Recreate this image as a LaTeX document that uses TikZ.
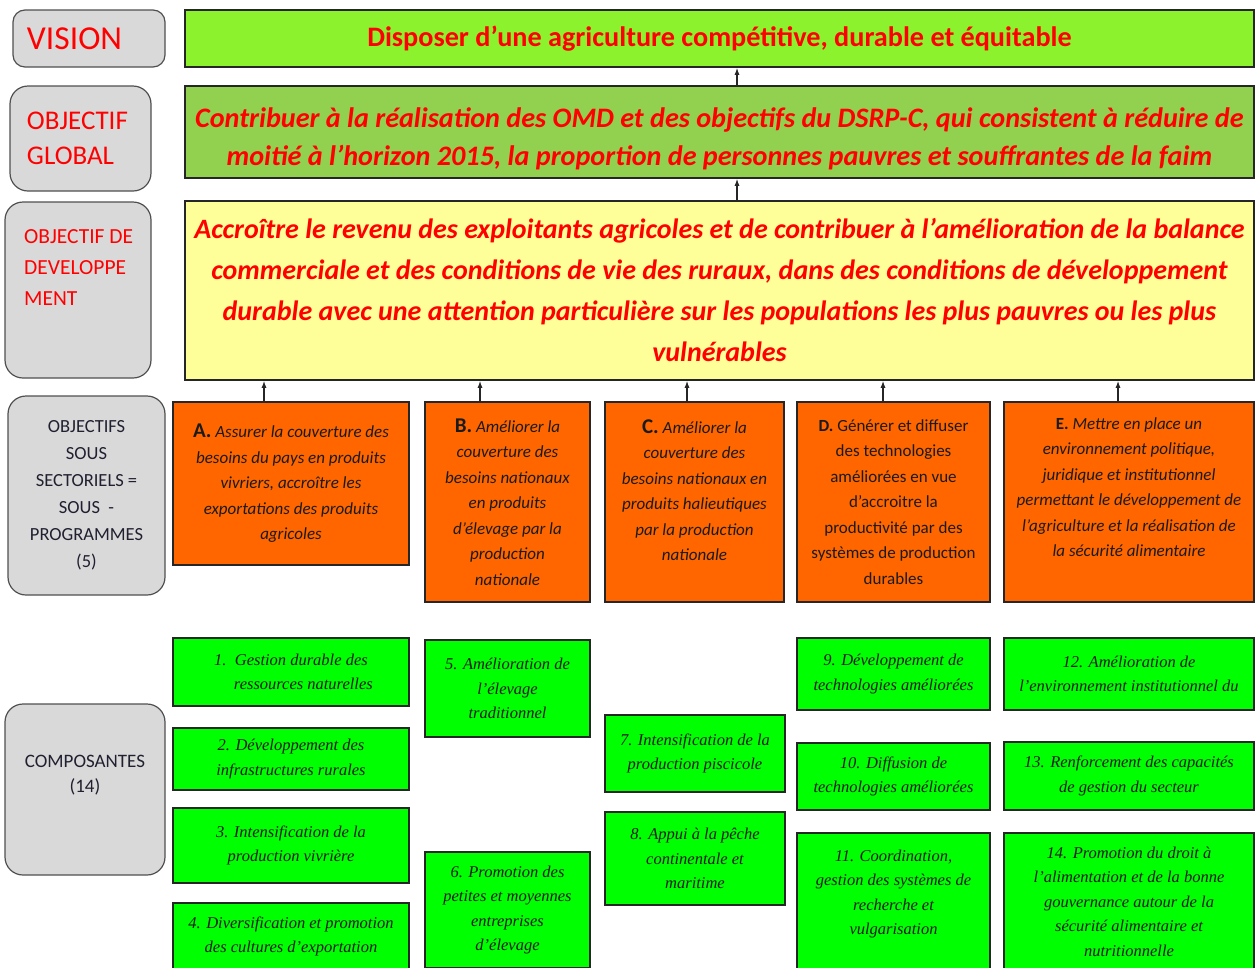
\documentclass[tikz,border=0pt]{standalone}
\usepackage{fontspec}
\setmainfont{Carlito}
\newfontfamily\compfont{Liberation Serif}
\usetikzlibrary{arrows.meta,positioning}
\definecolor{VisGreen}{HTML}{8CF22E}
\definecolor{GlobGreen}{HTML}{92D050}
\definecolor{DevYellow}{HTML}{FFFF99}
\definecolor{SubOrange}{HTML}{FF6600}
\definecolor{CompGreen}{HTML}{00FF00}
\definecolor{LblGray}{HTML}{D9D9D9}
\definecolor{LblEdge}{HTML}{505050}
\definecolor{TxtRed}{HTML}{FF0000}
\definecolor{TxtDark}{HTML}{1A1A1A}
\definecolor{TxtNavy}{HTML}{202030}
\newcommand\toppad[1]{\rule{0pt}{#1}}
\newcommand\botpad[1]{\rule[-#1]{0pt}{#1}}

\begin{document}
\begin{tikzpicture}[x=1pt,y=-1pt,
  lblbox/.style={draw=LblEdge,line width=1.2pt,fill=LblGray,rounded corners=18pt,inner sep=0pt},
  topbox/.style={draw=black!85,line width=1.6pt,inner sep=0pt,minimum width=1069pt,align=center,text=TxtRed},
  subbox/.style={draw=black!85,line width=1.4pt,fill=SubOrange,inner sep=0pt,align=center,text=TxtDark,font={\fontsize{17}{25.5}\selectfont\itshape}},
  compbox/.style={draw=black!85,line width=1.4pt,fill=CompGreen,inner sep=0pt,align=center,text=TxtDark,font={\compfont\fontsize{16.5}{24.5}\selectfont\itshape}},
  uparrow/.style={-{Latex[length=7pt,width=5pt]},line width=1.2pt,black!85}]
\useasboundingbox (0,0) rectangle (1256,967);

\node[lblbox,rounded corners=12pt,minimum width=152pt,minimum height=57pt,text width=124pt,align=left,text=TxtRed,font={\fontsize{33.5}{36}\selectfont}] (vislbl) at (89,38.5) {VISION};
\node[lblbox,minimum width=141pt,minimum height=105pt,text width=107pt,align=left,text=TxtRed,font={\fontsize{27}{35}\selectfont}] (glblbl) at (80.5,138.5) {OBJECTIF\\GLOBAL};
\node[lblbox,minimum width=146pt,minimum height=176pt] (devlbl) at (78,290) {};
\node[anchor=north west,inner sep=0pt,align=left,text=TxtRed,font={\fontsize{21.5}{31}\selectfont}] (devlbltxt) at (24,229) {OBJECTIF DE\\DEVELOPPE\\MENT};
\node[lblbox,minimum width=157pt,minimum height=199pt,align=center,text=TxtNavy,font={\fontsize{18.5}{27}\selectfont}] (sslbl) at (86.5,495.5) {OBJECTIFS\\SOUS\\SECTORIELS =\\SOUS\ \ -\\PROGRAMMES\\(5)};
\node[lblbox,minimum width=160pt,minimum height=171pt] (complbl) at (85,789.5) {};
\node[align=center,inner sep=0pt,text=TxtNavy,font={\fontsize{19}{25}\selectfont}] (complbltxt) at (85,775) {COMPOSANTES\\(14)};

\node[topbox,fill=VisGreen,minimum height=57pt,font={\fontsize{28.2}{30}\selectfont\bfseries}] (vision) at (719.5,38.5) {Disposer d’une agriculture compétitive, durable et équitable};
\node[topbox,fill=GlobGreen,minimum height=92pt,font={\fontsize{28.2}{38}\selectfont\bfseries\itshape}] (global) at (719.5,132) {\toppad{34pt}Contribuer à la réalisation des OMD et des objectifs du DSRP-C, qui consistent à réduire de\\moitié à l’horizon 2015, la proportion de personnes pauvres et souffrantes de la faim};
\node[topbox,fill=DevYellow,minimum height=179pt,font={\fontsize{28}{41}\selectfont\bfseries\itshape}] (devt) at (719.5,290.5) {Accroître le revenu des exploitants agricoles et de contribuer à l’amélioration de la balance\\commerciale et des conditions de vie des ruraux, dans des conditions de développement\\durable avec une attention particulière sur les populations les plus pauvres ou les plus\\vulnérables};

\draw[uparrow] ([xshift=17.5pt]global.north) -- ([xshift=17.5pt]vision.south);
\draw[uparrow] ([xshift=17.5pt]devt.north) -- ([xshift=17.5pt]global.south);

\node[subbox,minimum width=236pt,minimum height=163pt] (suba) at (291,483.5) {{\upshape\bfseries\fontsize{21}{25.5}\selectfont A.} Assurer la couverture des\\besoins du pays en produits\\vivriers, accroître les\\exportations des produits\\agricoles};
\node[subbox,minimum width=165pt,minimum height=200pt] (subb) at (507.5,502) {{\upshape\bfseries\fontsize{21}{25.5}\selectfont B.} Améliorer la\\couverture des\\besoins nationaux\\en produits\\d’élevage par la\\production\\nationale};
\node[subbox,minimum width=179pt,minimum height=200pt] (subc) at (694.5,502) {{\upshape\bfseries\fontsize{21}{25.5}\selectfont C.} Améliorer la\\couverture des\\besoins nationaux en\\produits halieutiques\\par la production\\nationale\botpad{24pt}};
\node[subbox,minimum width=193pt,minimum height=200pt,font={\fontsize{17}{25.5}\selectfont}] (subd) at (893.5,502) {\textbf{D.} Générer et diffuser\\des technologies\\améliorées en vue\\d’accroitre la\\productivité par des\\systèmes de production\\durables};
\node[subbox,minimum width=250pt,minimum height=200pt] (sube) at (1129,502) {{\upshape\bfseries E.} Mettre en place un\\environnement politique,\\juridique et institutionnel\\permettant le développement de\\l’agriculture et la réalisation de\\la sécurité alimentaire\botpad{30pt}};

\draw[uparrow] ([xshift=-27pt]suba.north) -- ([xshift=-27pt]suba.north |- devt.south);
\draw[uparrow] ([xshift=-27.5pt]subb.north) -- ([xshift=-27.5pt]subb.north |- devt.south);
\draw[uparrow] ([xshift=-7.5pt]subc.north) -- ([xshift=-7.5pt]subc.north |- devt.south);
\draw[uparrow] ([xshift=-10.5pt]subd.north) -- ([xshift=-10.5pt]subd.north |- devt.south);
\draw[uparrow] ([xshift=-11pt]sube.north) -- ([xshift=-11pt]sube.north |- devt.south);

\node[compbox,minimum width=236pt,minimum height=68pt] (comp1) at (291,672) {1.\ \ Gestion durable des\\\hspace*{1.5em}ressources naturelles};
\node[compbox,minimum width=236pt,minimum height=62pt] (comp2) at (291,759) {2. Développement des\\infrastructures rurales};
\node[compbox,minimum width=236pt,minimum height=75pt] (comp3) at (291,845.5) {3. Intensification de la\\production vivrière};
\node[compbox,minimum width=236pt,minimum height=67pt] (comp4) at (291,936.5) {4. Diversification et promotion\\des cultures d’exportation};
\node[compbox,minimum width=165pt,minimum height=97pt] (comp5) at (507.5,688.5) {5. Amélioration de\\l’élevage\\traditionnel};
\node[compbox,minimum width=165pt,minimum height=116pt] (comp6) at (507.5,910) {6. Promotion des\\petites et moyennes\\entreprises\\d’élevage};
\node[compbox,minimum width=180pt,minimum height=77pt] (comp7) at (695,753.5) {7. Intensification de la\\production piscicole};
\node[compbox,minimum width=180pt,minimum height=93pt] (comp8) at (695,858.5) {8. Appui à la pêche\\continentale et\\maritime};
\node[compbox,minimum width=193pt,minimum height=72pt] (comp9) at (893.5,674) {9. Développement de\\technologies améliorées};
\node[compbox,minimum width=193pt,minimum height=67pt] (comp10) at (893.5,776.5) {10. Diffusion de\\technologies améliorées};
\node[compbox,minimum width=193pt,minimum height=137pt] (comp11) at (893.5,901.5) {11. Coordination,\\gestion des systèmes de\\recherche et\\vulgarisation\botpad{18pt}};
\node[compbox,minimum width=250pt,minimum height=72pt] (comp12) at (1129,674) {12. Amélioration de\\l’environnement institutionnel du};
\node[compbox,minimum width=250pt,minimum height=68pt] (comp13) at (1129,776) {13. Renforcement des capacités\\de gestion du secteur};
\node[compbox,minimum width=250pt,minimum height=137pt] (comp14) at (1129,901.5) {14. Promotion du droit à\\l’alimentation et de la bonne\\gouvernance autour de la\\sécurité alimentaire et\\nutritionnelle};
\end{tikzpicture}
\end{document}
